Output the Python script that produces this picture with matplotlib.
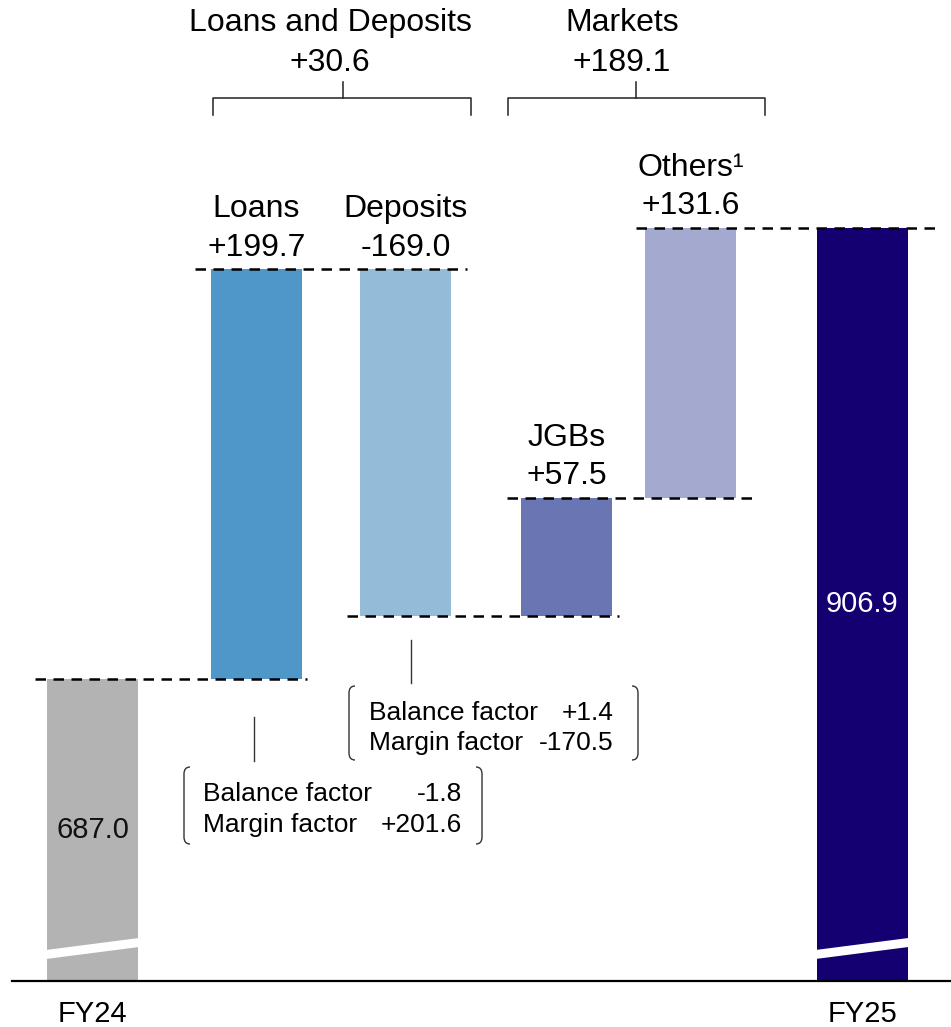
import matplotlib
matplotlib.use('Agg')
import matplotlib.pyplot as plt
from matplotlib.path import Path
from matplotlib.patches import PathPatch, Polygon

plt.rcParams['font.family'] = ['Liberation Sans', 'DejaVu Sans']

# ---------------- data ----------------
categories = ['FY24', 'Loans', 'Deposits', 'JGBs', 'Others\u00b9', 'FY25']
start_value = 687.0
changes = [199.7, -169.0, 57.5, 131.6]
end_value = 906.9
group_names = ['Loans and Deposits', 'Markets']
group_values = [30.6, 189.1]
factor_names = ['Balance factor', 'Margin factor']
loan_factors = [-1.8, 201.6]
deposit_factors = [1.4, -170.5]

# ---------------- layout / style ----------------
W, H = 951, 1027
x_pos = [92.5, 256.5, 405.5, 566.5, 690.5, 862.0]
bar_w = 91
base_px = 981
y_bottom = 539.75          # broken axis: value at the baseline
px_per_unit = 2.0509
colors = ['#b3b3b3', '#4f96c9', '#94bbd8', '#6a76b3', '#a4a9d0', '#150071']
conn_pad = [(12, 5), (16, 16), (13, 7), (14, 17), (9, 28)]
FS = 23
FS_VAL = 21
FS_BOX = 19

fig = plt.figure(figsize=(W / 100, H / 100), dpi=100)
ax = fig.add_axes([0, (H - base_px) / H, 1, base_px / H])
ax.set_xlim(0, W)
ax.set_ylim(y_bottom, y_bottom + base_px / px_per_unit)
ax.axis('off')

# waterfall levels
levels = [start_value]
for c in changes:
    levels.append(levels[-1] + c)

bottoms = [y_bottom]
heights = [start_value - y_bottom]
for i, c in enumerate(changes):
    lo = min(levels[i], levels[i + 1])
    bottoms.append(lo)
    heights.append(abs(c))
bottoms.append(y_bottom)
heights.append(end_value - y_bottom)

ax.bar(x_pos, heights, bottom=bottoms, width=bar_w, color=colors, zorder=2)

# connectors
for i in range(len(x_pos) - 1):
    lvl = levels[i]
    x0 = x_pos[i] - bar_w / 2 - conn_pad[i][0]
    x1 = x_pos[i + 1] + bar_w / 2 + conn_pad[i][1]
    ax.plot([x0, x1], [lvl, lvl], color='black', lw=1.8,
            linestyle=(0, (4.2, 3.0)), zorder=3, solid_capstyle='butt')

# labels above change bars
for i, c in enumerate(changes):
    top = max(levels[i], levels[i + 1])
    xc = x_pos[i + 1]
    ax.annotate(categories[i + 1], (xc, top), xytext=(0, 37.4),
                textcoords='offset points', ha='center', va='baseline', fontsize=FS)
    ax.annotate(f'{c:+.1f}', (xc, top), xytext=(0, 10.0),
                textcoords='offset points', ha='center', va='baseline', fontsize=FS)

# totals inside bars
ax.text(x_pos[0], start_value - (830 - 679) / px_per_unit, f'{start_value:.1f}',
        ha='center', va='center', fontsize=FS_VAL, color='#111111')
ax.text(x_pos[-1], end_value - (604 - 228) / px_per_unit, f'{end_value:.1f}',
        ha='center', va='center', fontsize=FS_VAL, color='white')

# ---------------- overlay in pixel coordinates ----------------
ov = fig.add_axes([0, 0, 1, 1])
ov.set_xlim(0, W)
ov.set_ylim(H, 0)
ov.axis('off')

# baseline
ov.plot([12, W], [base_px, base_px], color='black', lw=1.6)

# axis break stripes
for i in (0, len(x_pos) - 1):
    xl = x_pos[i] - bar_w / 2 - 1
    xr = x_pos[i] + bar_w / 2 + 1
    yl, yr, t = base_px - 26.5, base_px - 38.5, 4.5
    ov.add_patch(Polygon([(xl, yl - t), (xr, yr - t), (xr, yr + t), (xl, yl + t)],
                         closed=True, facecolor='white', edgecolor='none', zorder=5))

# x labels
for i in (0, len(x_pos) - 1):
    ov.text(x_pos[i], 1022, categories[i], ha='center', va='baseline', fontsize=FS_VAL)

# group brackets at top
grp_span = [(213, 471, 343), (508, 765, 636)]
grp_text_x = [330, 622]
for (xa, xb, xm), tx, name, val in zip(grp_span, grp_text_x, group_names, group_values):
    ov.plot([xa, xa, xb, xb], [115, 98, 98, 115], color='#222222', lw=1.1)
    ov.plot([xm, xm], [98, 82], color='#222222', lw=1.1)
    ov.text(tx, 31, name, ha='center', va='baseline', fontsize=FS)
    ov.text(tx, 71, f'{val:+.1f}', ha='center', va='baseline', fontsize=FS)


def bracket(x, top, bot, side):
    d = 6 * side
    r = 7
    verts = [(x + d, top), (x, top), (x, top + r), (x, bot - r), (x, bot), (x + d, bot)]
    codes = [Path.MOVETO, Path.CURVE3, Path.CURVE3, Path.LINETO, Path.CURVE3, Path.CURVE3]
    ov.add_patch(PathPatch(Path(verts, codes), facecolor='none',
                           edgecolor='#333333', lw=1.0))


def factor_box(xl, xr, top, bot, xline, ytick0, ytick1, tx_l, tx_r, baselines, vals):
    bracket(xl, top, bot, 1)
    bracket(xr, top, bot, -1)
    ov.plot([xline, xline], [ytick0, ytick1], color='#333333', lw=1.0)
    for name, v, yb in zip(factor_names, vals, baselines):
        ov.text(tx_l, yb, name, ha='left', va='baseline', fontsize=FS_BOX)
        ov.text(tx_r, yb, f'{v:+.1f}', ha='right', va='baseline', fontsize=FS_BOX)


factor_box(184, 482, 767, 844, 254, 717, 761, 203, 462, (801, 832), loan_factors)
factor_box(349, 638, 686, 760, 411, 640, 683, 369, 614, (720, 750), deposit_factors)

fig.savefig('out.png', dpi=100)
